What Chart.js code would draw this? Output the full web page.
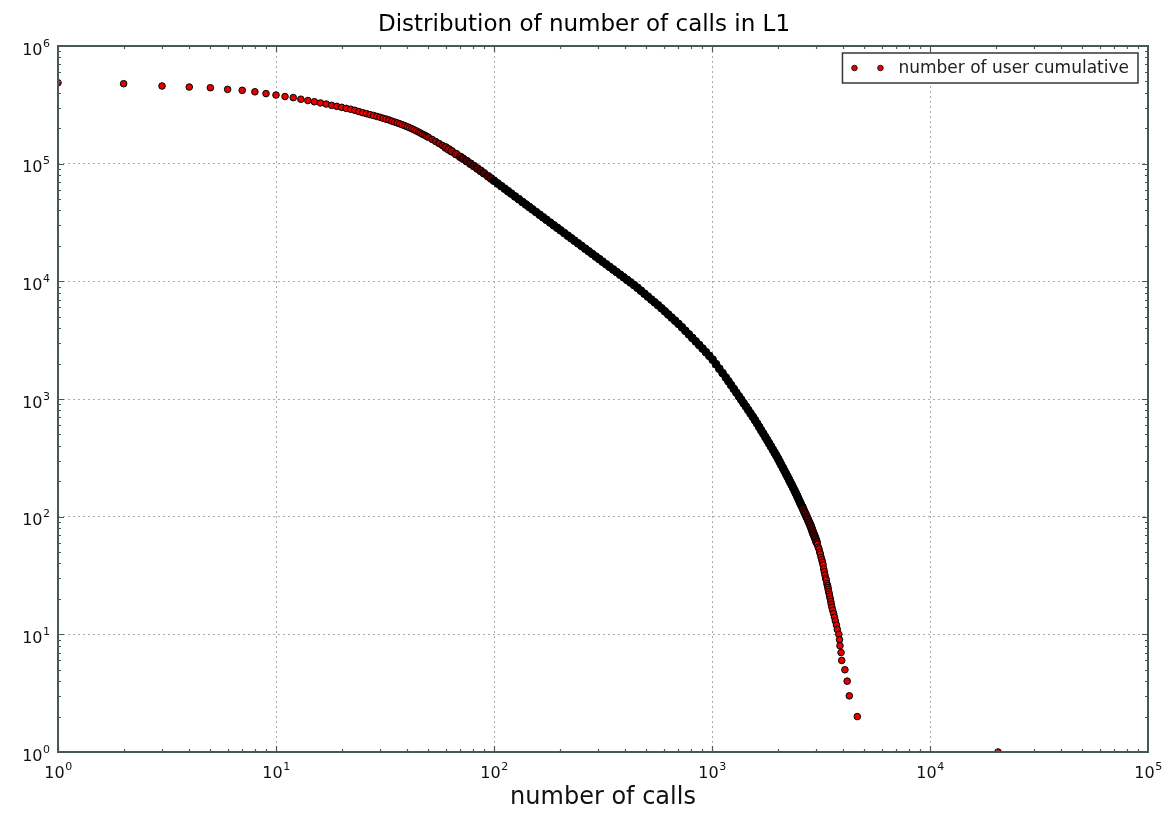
<!DOCTYPE html>
<html>
<head>
<meta charset="utf-8">
<title>Distribution of number of calls in L1</title>
<script src="https://cdn.jsdelivr.net/npm/chart.js@4.4.1/dist/chart.umd.min.js"></script>
<style>
  html, body { margin: 0; padding: 0; background: #fff; }
  canvas { display: block; }
</style>
</head>
<body>
<canvas id="chart" width="1170" height="816"></canvas>
<script>
// number of calls (x) and cumulative number of users (y)
const calls = [
  1, 2, 3, 4, 5, 6, 7, 8, 9, 10, 11, 12, 13, 14, 15, 16, 17, 18, 19, 20,
  21, 22, 23, 24, 25, 26, 27, 28, 29, 30, 31, 32, 33, 34, 35, 36, 37, 38, 39, 40,
  41, 42, 43, 44, 45, 46, 47, 48, 49, 50, 52, 54, 56, 58, 60, 62, 64, 67, 70, 72,
  75, 78, 81, 84, 87, 90, 94, 97, 100, 104, 108, 112, 116, 120, 125, 130, 135, 140, 145, 150,
  156, 162, 168, 174, 181, 188, 195, 202, 210, 218, 226, 234, 243, 252, 262, 272, 282, 293, 304, 315,
  327, 339, 352, 365, 379, 393, 408, 423, 439, 455, 472, 490, 508, 527, 546, 566, 587, 608, 630, 653,
  677, 702, 728, 755, 783, 812, 842, 873, 905, 938, 972, 1007, 1043, 1080, 1118, 1157, 1190, 1224, 1258, 1293,
  1329, 1362, 1396, 1431, 1467, 1503, 1540, 1575, 1610, 1646, 1683, 1720, 1758, 1793, 1828, 1864, 1900, 1937, 1974, 2008,
  2043, 2078, 2114, 2150, 2187, 2220, 2254, 2288, 2322, 2357, 2393, 2425, 2458, 2491, 2525, 2559, 2593, 2625, 2657, 2690,
  2723, 2757, 2791, 2825, 2852, 2880, 2908, 2936, 2964, 2990, 3017, 3044, 3071, 3097, 3120, 3143, 3166, 3190, 3210, 3232,
  3254, 3276, 3297, 3320, 3343, 3365, 3388, 3404, 3412, 3431, 3450, 3467, 3487, 3508, 3525, 3548, 3577, 3614, 3648, 3681,
  3724, 3758, 3819, 3846, 3864, 3908, 3936, 4071, 4169, 4264, 4640, 20500
];
const users = [
  487000, 478000, 457000, 448000, 442000, 428000, 420000, 408000, 394000, 383000, 372000, 364000, 353000, 344000, 336000, 328000, 321000, 313000, 307000, 301000,
  295000, 290000, 284000, 277000, 271000, 266000, 261000, 257000, 252000, 248000, 243000, 239000, 235000, 230000, 226000, 222000, 218000, 214000, 210000, 206000,
  202000, 198000, 194000, 190000, 186000, 182000, 178000, 175000, 171000, 167500, 160700, 154300, 148300, 142600, 137200, 132100, 127200, 120500, 114300, 110400,
  105000, 99900, 95200, 90800, 86700, 82800, 78100, 74800, 71600, 67850, 64400, 61300, 58300, 55700, 52600, 49900, 47300, 45000, 42900, 40900,
  38800, 36800, 35000, 33350, 31600, 29950, 28500, 27130, 25730, 24430, 23240, 22150, 21030, 20010, 18950, 18000, 17130, 16240, 15440, 14700,
  13960, 13280, 12610, 12000, 11390, 10830, 10280, 9790, 9300, 8820, 8330, 7850, 7420, 7000, 6625, 6260, 5900, 5560, 5230, 4920,
  4630, 4350, 4070, 3800, 3544, 3306, 3087, 2881, 2685, 2498, 2326, 2160, 1977, 1811, 1661, 1523, 1414, 1312, 1220, 1134,
  1054, 986, 922, 862, 805, 753, 705, 661, 619, 579, 541, 507, 474, 447, 420, 395, 372, 350, 330, 311,
  293, 276, 260, 245, 231, 219, 207, 196, 186, 176, 166, 158, 150, 142, 134, 127, 121, 115, 109, 104,
  99, 94, 89, 85, 81, 77, 73, 70, 67, 64, 61, 58, 55, 53, 50, 48, 45, 43, 41, 39,
  36, 34, 32, 30, 29, 27, 26, 25, 24, 23, 22, 21, 20, 19, 18, 17, 16, 15, 14, 13,
  12, 11, 10, 9, 8, 7, 6, 5, 4, 3, 2, 1
];

// decade ticks, written as base + exponent like the original mathtext labels
const xTicks = [1, 10, 100, 1000, 10000, 100000];
const xTickExp = ['0', '1', '2', '3', '4', '5'];
const yTicks = [1, 10, 100, 1000, 10000, 100000, 1000000];
const yTickExp = ['0', '1', '2', '3', '4', '5', '6'];
const tickBase = '10';

const seriesLabel = 'number of user cumulative';
const chartTitle = 'Distribution of number of calls in L1';
const xTitle = 'number of calls';

const RED = '#e80000';
const AXIS = '#485858';
const FONT = "'DejaVu Sans', sans-serif";

const points = calls.map((c, i) => ({ x: c, y: users[i] }));

// where the markers pile up the red fill disappears under the black edges
function markerFill(ctx) {
  const p = ctx.raw;
  if (!p) return RED;
  if (p.x < 45) return RED;
  if (p.x < 70) return '#a00000';
  if (p.x < 100) return '#500000';
  if (p.y >= 120) return '#000';
  if (p.y >= 60) return '#500000';
  return RED;
}
function markerRadius(ctx) {
  const p = ctx.raw;
  if (p && p.x >= 60 && p.y >= 60) return 3.9;
  return 3.3;
}

const framePlugin = {
  id: 'frame',
  afterDatasetsDraw(chart) {
    const { ctx, chartArea: a, scales: { x, y } } = chart;
    ctx.save();
    ctx.strokeStyle = AXIS;
    ctx.lineWidth = 1.2;
    ctx.beginPath();
    for (let d = 1; d < 100000; d *= 10) {
      for (let m = 1; m < 10; m++) {
        const px = Math.round(x.getPixelForValue(d * m)) + 0.5;
        const len = m === 1 ? 6 : 3;
        ctx.moveTo(px, a.bottom); ctx.lineTo(px, a.bottom - len);
        ctx.moveTo(px, a.top); ctx.lineTo(px, a.top + len);
      }
    }
    for (let d = 1; d < 1000000; d *= 10) {
      for (let m = 1; m < 10; m++) {
        const py = Math.round(y.getPixelForValue(d * m)) + 0.5;
        const len = m === 1 ? 6 : 3;
        ctx.moveTo(a.left, py); ctx.lineTo(a.left + len, py);
        ctx.moveTo(a.right, py); ctx.lineTo(a.right - len, py);
      }
    }
    ctx.stroke();
    ctx.lineWidth = 2;
    ctx.strokeRect(a.left, a.top, a.right - a.left, a.bottom - a.top);

    // tick labels: "10" with a raised exponent
    ctx.fillStyle = '#111';
    ctx.textBaseline = 'alphabetic';
    const baseFont = '16px ' + FONT, expFont = '11px ' + FONT;
    xTicks.forEach((v, i) => {
      const px = x.getPixelForValue(v);
      ctx.font = baseFont;
      const bw = ctx.measureText(tickBase).width;
      ctx.font = expFont;
      const ew = ctx.measureText(xTickExp[i]).width;
      const left = px - (bw + ew) / 2;
      ctx.font = baseFont;
      ctx.textAlign = 'left';
      ctx.fillText(tickBase, left, a.bottom + 26);
      ctx.font = expFont;
      ctx.fillText(xTickExp[i], left + bw + 0.5, a.bottom + 18);
    });
    yTicks.forEach((v, i) => {
      const py = y.getPixelForValue(v);
      ctx.font = expFont;
      const ew = ctx.measureText(yTickExp[i]).width;
      const right = a.left - 8;
      ctx.textAlign = 'right';
      ctx.fillText(yTickExp[i], right, py + 0.5);
      ctx.font = baseFont;
      ctx.fillText(tickBase, right - ew - 0.5, py + 8.5);
    });
    ctx.restore();
  }
};

const legendPlugin = {
  id: 'legendBox',
  afterDraw(chart) {
    const { ctx, chartArea: a } = chart;
    ctx.save();
    ctx.font = '17px ' + FONT;
    const tw = ctx.measureText(seriesLabel).width;
    const h = 30, w = 56 + tw + 9;
    const left = a.right - 10 - w, top = a.top + 7;
    ctx.fillStyle = '#fff';
    ctx.fillRect(left, top, w, h);
    ctx.strokeStyle = '#2f3a3a';
    ctx.lineWidth = 1.5;
    ctx.strokeRect(left, top, w, h);
    [12, 38].forEach(dx => {
      ctx.beginPath();
      ctx.arc(left + dx, top + h / 2, 2.8, 0, Math.PI * 2);
      ctx.fillStyle = RED;
      ctx.fill();
      ctx.lineWidth = 0.8;
      ctx.strokeStyle = '#000';
      ctx.stroke();
    });
    ctx.fillStyle = '#222';
    ctx.textBaseline = 'middle';
    ctx.fillText(seriesLabel, left + 56, top + h / 2 + 1);
    ctx.restore();
  }
};

new Chart(document.getElementById('chart'), {
  type: 'scatter',
  data: {
    datasets: [{
      label: seriesLabel,
      data: points,
      pointRadius: markerRadius,
      pointHoverRadius: markerRadius,
      pointBorderWidth: 1,
      pointBorderColor: '#000',
      pointBackgroundColor: markerFill,
      clip: 0
    }]
  },
  options: {
    responsive: false,
    animation: false,
    events: [],
    layout: { padding: { left: 20, right: 22, top: 0, bottom: 0 } },
    plugins: {
      legend: { display: false },
      tooltip: { enabled: false },
      title: {
        display: true,
        text: chartTitle,
        color: '#000',
        font: { family: FONT, size: 23, weight: 'normal' },
        padding: { top: 11, bottom: 7.4 }
      }
    },
    scales: {
      x: {
        type: 'logarithmic',
        min: 1,
        max: 100000,
        afterBuildTicks: s => { s.ticks = xTicks.map(v => ({ value: v })); },
        afterFit: s => { s.height = 64; },
        ticks: { display: false },
        grid: { color: '#a3aeb2', lineWidth: 1, drawTicks: false },
        border: { display: false, dash: [2, 3] },
        title: {
          display: true,
          text: xTitle,
          color: '#111',
          font: { family: FONT, size: 24 },
          padding: { top: 0, bottom: 3.6 }
        }
      },
      y: {
        type: 'logarithmic',
        min: 1,
        max: 1000000,
        afterBuildTicks: s => { s.ticks = yTicks.map(v => ({ value: v })); },
        afterFit: s => { s.width = 38; },
        ticks: { display: false },
        grid: { color: '#a3aeb2', lineWidth: 1, drawTicks: false },
        border: { display: false, dash: [2, 3] }
      }
    }
  },
  plugins: [framePlugin, legendPlugin]
});
</script>
</body>
</html>
